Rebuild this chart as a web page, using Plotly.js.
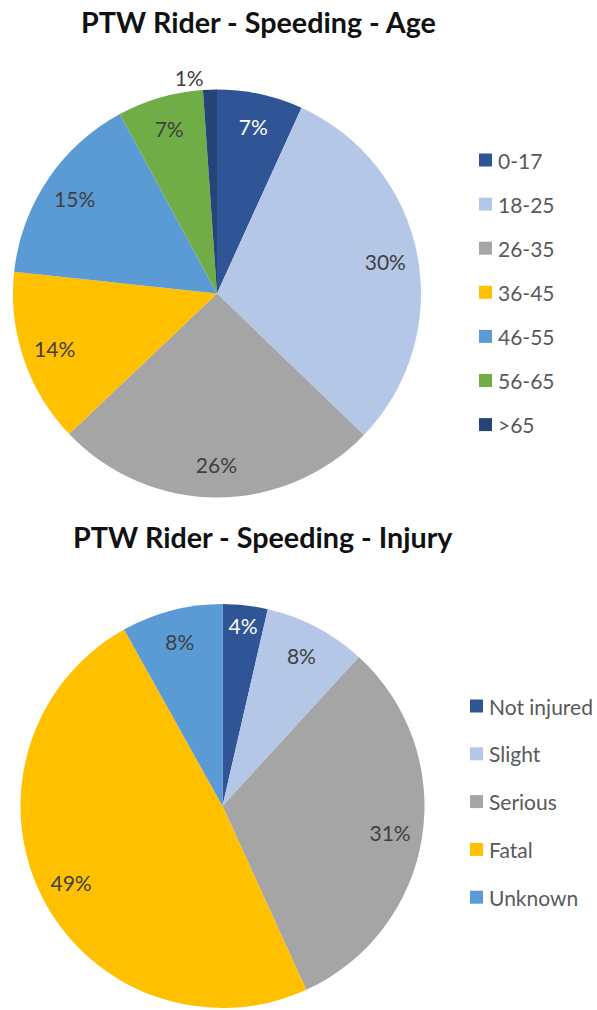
<!DOCTYPE html>
<html><head><meta charset="utf-8">
<script src="https://cdn.plot.ly/plotly-3.0.1.min.js"></script>
<style>html,body{margin:0;padding:0;background:#fff}</style>
</head><body><div id="chart" style="width:597px;height:1010px"></div>
<script>
// ---- data ----
const ageLabels = ['0-17', '18-25', '26-35', '36-45', '46-55', '56-65', '>65'];
const ageValues = [6.8, 30.4, 25.7, 13.8, 15.4, 6.8, 1.1];
const ageColors = ['#2F5597', '#B4C7E7', '#A5A5A5', '#FFC000', '#5B9BD5', '#70AD47', '#264478'];

const injuryLabels = ['Not injured', 'Slight', 'Serious', 'Fatal', 'Unknown'];
const injuryValues = [3.6, 8.2, 31.4, 48.7, 8.1];
const injuryColors = ['#2F5597', '#B4C7E7', '#A5A5A5', '#FFC000', '#5B9BD5'];

const chartTitles = ['PTW Rider - Speeding - Age', 'PTW Rider - Speeding - Injury'];

// ---- layout helpers ----
const W = 597, H = 1010;
const FONT = 'Lato, "Open Sans", sans-serif';
const DARK_TXT = '#404040';

function domainFor(cx, cy, r) {
  return {
    x: [(cx - r) / W, (cx + r) / W],
    y: [(H - cy - r) / H, (H - cy + r) / H]
  };
}
function textColors(colors) {
  return colors.map(c => (c === '#2F5597' || c === '#264478') ? '#FFFFFF' : DARK_TXT);
}

function pieTraces(labels, values, colors, geom) {
  const dom = domainFor(geom.cx, geom.cy, geom.r);
  const base = {
    type: 'pie', labels: labels, values: values, sort: false,
    direction: 'clockwise', rotation: 0, domain: dom, showlegend: false,
    hoverinfo: 'skip'
  };
  const fill = Object.assign({}, base, {
    marker: {colors: colors, line: {color: '#FFFFFF', width: 0}},
    textinfo: 'none'
  });
  const minShare = 0.02;
  const total = values.reduce((a, b) => a + b, 0);
  const labelsLayer = Object.assign({}, base, {
    hole: 0.68,
    marker: {colors: colors.map(() => 'rgba(0,0,0,0)'), line: {width: 0}},
    texttemplate: '%{percent:.0%}',
    textposition: values.map(v => v / total < minShare ? 'outside' : 'inside'),
    insidetextorientation: 'horizontal',
    textfont: {family: FONT, size: 21, color: textColors(colors)},
    outsidetextfont: {family: FONT, size: 21, color: DARK_TXT}
  });
  return [fill, labelsLayer];
}

const ageGeom = {cx: 217, cy: 293.5, r: 204};
const injGeom = {cx: 222.5, cy: 806, r: 202};

const data = []
  .concat(pieTraces(ageLabels, ageValues, ageColors, ageGeom))
  .concat(pieTraces(injuryLabels, injuryValues, injuryColors, injGeom));

// custom legends (Excel-like spacing)
const shapes = [], annotations = [];
function addLegend(labels, colors, x0, y0, step) {
  labels.forEach((lab, i) => {
    const yc = y0 + i * step;
    shapes.push({
      type: 'rect', xref: 'paper', yref: 'paper',
      x0: x0 / W, x1: (x0 + 13) / W,
      y0: (H - yc - 6.5) / H, y1: (H - yc + 6.5) / H,
      fillcolor: colors[i], line: {width: 0}
    });
    annotations.push({
      xref: 'paper', yref: 'paper', x: (x0 + 17) / W, y: (H - yc) / H,
      xanchor: 'left', yanchor: 'middle', showarrow: false, text: lab,
      font: {family: FONT, size: 21, color: '#595959'}
    });
  });
}
addLegend(ageLabels, ageColors, 479, 160, 44.1);
addLegend(injuryLabels, injuryColors, 470, 706, 47.8);

// titles
[[chartTitles[0], 258, 22], [chartTitles[1], 263, 537]].forEach(t => {
  annotations.push({
    xref: 'paper', yref: 'paper', x: t[1] / W, y: (H - t[2]) / H,
    xanchor: 'center', yanchor: 'middle', showarrow: false,
    text: '<b>' + t[0] + '</b>',
    font: {family: FONT, size: 28.7, color: '#111111'}
  });
});

const layout = {
  width: W, height: H,
  margin: {l: 0, r: 0, t: 0, b: 0},
  paper_bgcolor: '#FFFFFF',
  showlegend: false,
  shapes: shapes, annotations: annotations
};

Plotly.newPlot('chart', data, layout, {displayModeBar: false, staticPlot: true});
</script>
</body></html>
